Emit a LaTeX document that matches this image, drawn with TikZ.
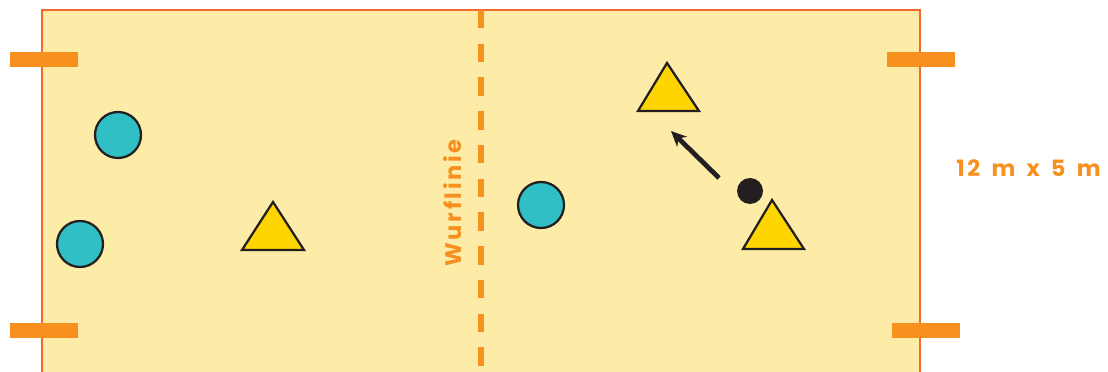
\documentclass[tikz,border=0pt]{standalone}
\usepackage{fontspec}
\usepackage{tikz}
\usetikzlibrary{arrows.meta}
\newfontfamily\labelfont[LetterSpace=12,WordSpace=1.5]{Poppins}
\definecolor{feld}{HTML}{FDEBA8}
\definecolor{rand}{HTML}{F26B2A}
\definecolor{orange}{HTML}{F7901E}
\definecolor{blau}{HTML}{30BFC4}
\definecolor{gelb}{HTML}{FFD500}
\definecolor{schwarz}{HTML}{231F20}
\tikzset{
  tor/.style={fill=orange},
  kreis/.style={fill=blau,draw=schwarz,line width=1.6pt},
  dreieck/.style={fill=gelb,draw=schwarz,line width=1.6pt,line join=miter},
  schrift/.style={text=orange,font=\labelfont\bfseries\fontsize{16}{16}\selectfont}
}
\begin{document}
\begin{tikzpicture}[x=0.025cm,y=-0.025cm]
        \useasboundingbox (0,0) rectangle (1108,372);
        \clip (0,0) rectangle (1108,372);
        \fill[feld] (42,10) rectangle (920,380);
        \draw[rand,line width=1.4pt] (42,380) -- (42,10) -- (920,10) -- (920,380); % Spielfeld
        \draw[orange,line width=3.8pt,dash pattern=on 13 off 11] (481,10) -- (481,380);
        \node[schrift,rotate=90] (wurf) at (453,203) {Wurflinie};
        \node[schrift,anchor=west,inner sep=0pt] (mass) at (956,168) {12 m x 5 m};
        % Tore
        \fill[tor] (10,52) rectangle (78,67);
        \fill[tor] (10,323) rectangle (78,338);
        \fill[tor] (887,52) rectangle (955,67);
        \fill[tor] (892,323) rectangle (960,338);
        % Spieler
        \draw[kreis] (118,135) circle (23);
        \draw[kreis] (80,244) circle (23);
        \draw[kreis] (541,205) circle (23);
        \draw[dreieck] (273,202) -- (304,250) -- (242,250) -- cycle;
        \draw[dreieck] (667,63) -- (699,111) -- (638,111) -- cycle;
        \draw[dreieck] (772,200) -- (804,249) -- (743,249) -- cycle;
        \fill[schwarz] (750,191) coordinate (ball) circle (13);
        \coordinate (ziel) at (671,131);
        \draw[schwarz,line width=3.4pt,-{Stealth[length=11pt,width=10pt]}] (719,178) -- (ziel);
    \end{tikzpicture}
\end{document}
